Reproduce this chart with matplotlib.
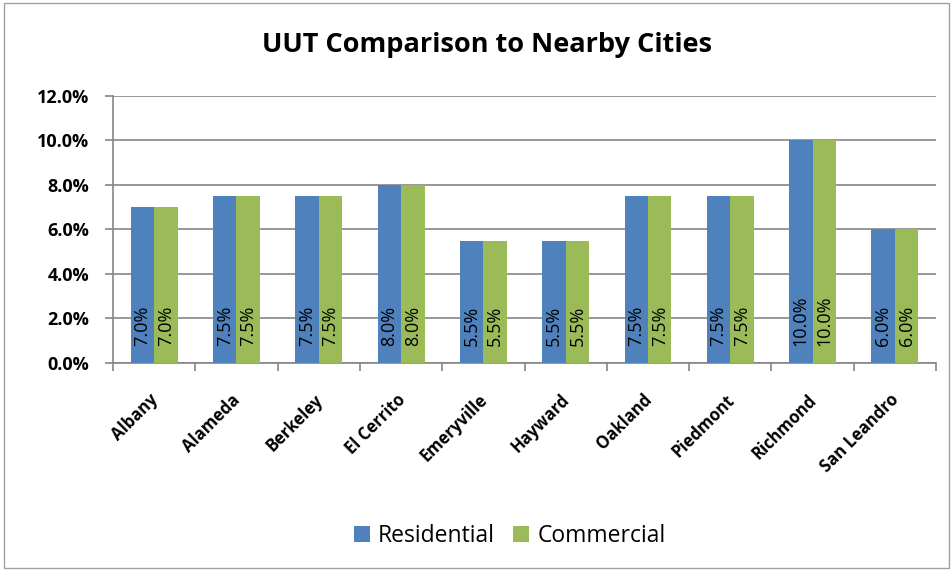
import matplotlib
matplotlib.use("Agg")
import matplotlib.pyplot as plt
import numpy as np
from matplotlib.ticker import FuncFormatter, MultipleLocator
from matplotlib.patches import Rectangle
from matplotlib.transforms import ScaledTranslation

plt.rcParams['font.family'] = ['Open Sans', 'DejaVu Sans']

cities = ["Albany", "Alameda", "Berkeley", "El Cerrito", "Emeryville", "Hayward",
          "Oakland", "Piedmont", "Richmond", "San Leandro"]
residential = [7.0, 7.5, 7.5, 8.0, 5.5, 5.5, 7.5, 7.5, 10.0, 6.0]
commercial = [7.0, 7.5, 7.5, 8.0, 5.5, 5.5, 7.5, 7.5, 10.0, 6.0]
series_names = ["Residential", "Commercial"]
colors = ["#4F81BD", "#9BBB59"]

fig = plt.figure(figsize=(9.53, 5.71), dpi=100)
fig.patches.append(Rectangle((0.004, 0.006), 0.992, 0.988, transform=fig.transFigure,
                             fill=False, edgecolor="#A0A0A0", linewidth=1.0))
ax = fig.add_axes([0.1186, 0.3643, 0.8636, 0.4676])

x = np.arange(len(cities))
w = 0.285
grid_c = "#868686"
b1 = ax.bar(x - w/2, residential, w, color=colors[0], label=series_names[0], zorder=3)
b2 = ax.bar(x + w/2, commercial, w, color=colors[1], label=series_names[1], zorder=3)

for bars, vals in ((b1, residential), (b2, commercial)):
    for rect, v in zip(bars, vals):
        ax.text(rect.get_x() + rect.get_width()/2, 0.78, f"{v:.1f}%", rotation=90,
                ha="center", va="bottom", fontsize=13, color="black", zorder=4)

ax.set_ylim(0, 12)
ax.set_xlim(-0.5, len(cities) - 0.5)
ax.yaxis.set_major_locator(MultipleLocator(2))
ax.yaxis.set_major_formatter(FuncFormatter(lambda v, p: f"{v:.1f}%"))
ax.grid(axis="y", color=grid_c, linewidth=1.2, zorder=0)
ax.set_axisbelow(True)
for s in ["top", "right"]:
    ax.spines[s].set_visible(False)
for s in ["left", "bottom"]:
    ax.spines[s].set_color(grid_c)
    ax.spines[s].set_linewidth(1.2)

ax.set_xticks(np.arange(-0.5, len(cities), 1.0))
ax.set_xticklabels([])
ax.set_xticks(x, minor=True)
ax.set_xticklabels(cities, minor=True, rotation=45, ha="right", va="top",
                   rotation_mode="anchor", fontsize=12, fontweight="bold")
ax.tick_params(axis="x", which="minor", length=0, pad=20)
for t in ax.get_xticklabels(minor=True):
    t.set_transform(t.get_transform() + ScaledTranslation(-0.05, 0, fig.dpi_scale_trans))
ax.tick_params(axis="x", which="major", length=6, color=grid_c, width=1.2)
ax.tick_params(axis="y", length=6, color=grid_c, width=1.2, labelsize=13, pad=11)
for t in ax.get_yticklabels():
    t.set_fontweight("bold")

fig.text(0.511, 0.921, "UUT Comparison to Nearby Cities", ha="center", va="center",
         fontsize=19.5, fontweight="bold")
fig.legend(loc="center", bbox_to_anchor=(0.535, 0.062), ncol=2, frameon=False,
           fontsize=16.5, handlelength=0.7, handleheight=0.7, handletextpad=0.35,
           columnspacing=0.8)

fig.savefig("out.png", dpi=100)
